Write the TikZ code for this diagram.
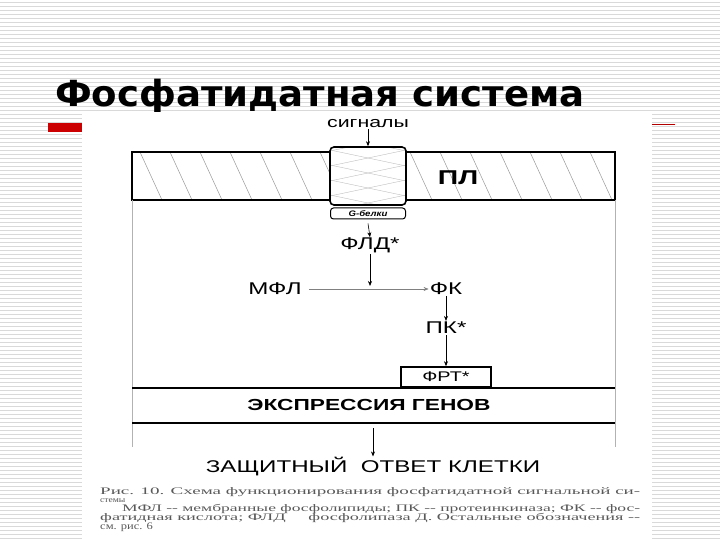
\documentclass[tikz,border=0pt]{standalone}
\usepackage{fontspec}
\setmainfont{Liberation Sans}
\newfontfamily\serifc{Liberation Serif}
\newfontfamily\titlef{DejaVu Sans}
\usetikzlibrary{arrows.meta}
\newcommand{\wide}[1]{\scalebox{1.42}[1]{#1}}
\begin{document}
\begin{tikzpicture}[x=1pt,y=-1pt,
  lbl/.style={font=\fontsize{17}{17}\selectfont, inner sep=1pt},
  arr/.style={-{Stealth[length=5pt,width=4pt]}, line width=0.6pt},
  thick line/.style={line width=2.2pt},
  capl/.style={anchor=base west, inner sep=0, text=gray!70!black, font=\serifc\fontsize{10}{10}\selectfont}]
\useasboundingbox (0,0) rectangle (720,540);
\fill[white] (0,0) rectangle (720,540);
\foreach \y in {2,6,...,538} \draw[gray!30, line width=0.5pt] (0,\y) -- (720,\y);
% title
\node[anchor=base west, inner sep=0, font=\titlef\bfseries\fontsize{36}{36}\selectfont] (title) at (55,107) {\scalebox{1.03}[1]{Фосфатидатная система}};
\fill[red!80!black] (48,123) rectangle (82,132);
\draw[red!70!black, line width=0.8pt] (652,124) -- (675,124);
% white panel
\fill[white] (82,112) rectangle (652,540);
% membrane hatching
\begin{scope}
\clip (132,152) rectangle (615,200);
\foreach \x in {110,140,...,620} \draw[gray!80, line width=0.5pt] (\x,152) -- (\x+22,200);
\end{scope}
\draw[line width=1.6pt] (132,152) rectangle (615,200);
\node[draw, line width=1.6pt, rounded corners=4pt, fill=white, minimum width=76pt, minimum height=58pt, inner sep=0] (prot) at (368,176) {};
\begin{scope}
\clip ([shift={(2,-2)}]prot.south west) rectangle ([shift={(-2,2)}]prot.north east);
\foreach \y in {120,135,...,240} {
  \draw[gray!50, line width=0.4pt] (330,\y) -- (406,\y+16);
  \draw[gray!50, line width=0.4pt] (330,\y+16) -- (406,\y);
}
\end{scope}
\node[lbl, font=\bfseries\fontsize{20}{20}\selectfont] (pl) at (458,178) {\wide{ПЛ}};
\node[draw, line width=1pt, rounded corners=3pt, minimum width=75pt, minimum height=11pt, inner sep=0, font=\bfseries\itshape\fontsize{8}{8}\selectfont] (gb) at (368,213.5) {\scalebox{1.2}[1]{G-белки}};
% frame sides
\draw[gray!60, line width=0.6pt] (132,200) -- (132,447);
\draw[gray!60, line width=0.6pt] (615,200) -- (615,447);
% labels
\node[lbl, font=\fontsize{15}{15}\selectfont] (sig) at (368,124) {\wide{сигналы}};
\node[lbl] (fld) at (370,245) {\wide{ФЛД*}};
\node[lbl] (mfl) at (275,289) {\wide{МФЛ}};
\node[lbl] (fk) at (446,289) {\wide{ФК}};
\node[lbl] (pk) at (446,328) {\wide{ПК*}};
\node[draw, line width=1.6pt, minimum width=90pt, minimum height=20pt, inner sep=0, lbl, font=\fontsize{14}{14}\selectfont] (frt) at (446,377) {\wide{ФРТ*}};
\node[lbl, font=\bfseries\fontsize{16}{16}\selectfont] (expr) at (369,405) {\wide{ЭКСПРЕССИЯ ГЕНОВ}};
\node[lbl] (ans) at (373,467) {\wide{ЗАЩИТНЫЙ\ \ ОТВЕТ КЛЕТКИ}};
\coordinate (c1) at (370,286);
\coordinate (e1) at (373,428);
\draw[thick line] (132,388) -- (615,388);
\draw[thick line] (132,423) -- (615,423);
% arrows
\draw[arr] (sig.south) -- (prot.north);
\draw[arr] (gb.south)++(0,4) -- ([yshift=-1pt]fld.north);
\draw[arr] (fld.south) -- (c1);
\draw[arr, gray] (mfl.east)++(6,0) -- (fk.west);
\draw[arr] (fk.south) -- (pk.north);
\draw[arr] (pk.south) -- (frt.north);
\draw[arr] (e1) -- (ans.north);
% caption
\node[capl] (cap1) at (100,494) {\resizebox{540pt}{\height}{Рис. 10. Схема функционирования фосфатидатной сигнальной си-}};
\node[capl, font=\serifc\fontsize{8}{8}\selectfont] (cap2) at (100,502) {\scalebox{1.2}[1]{стемы}};
\node[capl] (cap3) at (122,511) {\resizebox{518pt}{\height}{МФЛ -- мембранные фосфолипиды; ПК -- протеинкиназа; ФК -- фос-}};
\node[capl] (cap4) at (100,520) {\resizebox{540pt}{\height}{фатидная кислота; ФЛД \quad фосфолипаза Д. Остальные обозначения --}};
\node[capl] (cap5) at (100,529) {\scalebox{1.25}[1]{см. рис. 6}};
\end{tikzpicture}
\end{document}
